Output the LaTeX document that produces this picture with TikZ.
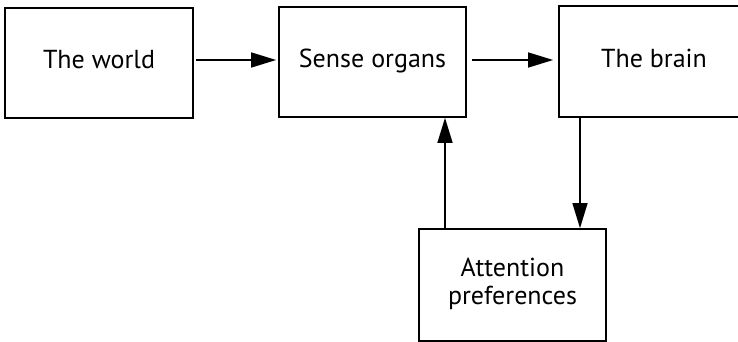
\documentclass[tikz,border=0pt]{standalone}
\usepackage{fontspec}
\setmainfont{PT Sans}
\usetikzlibrary{arrows.meta}
\begin{document}
\begin{tikzpicture}[x=1pt,y=-1pt,
  box/.style={draw, line width=1.7pt, inner sep=0pt, align=center,
    font=\fontsize{26}{28.5}\selectfont},
  link/.style={line width=1.4pt, -{Triangle[length=25pt,width=15pt]}}]
\useasboundingbox (0,0) rectangle (738,342);
\clip (0,0) rectangle (738,342);
% boxes
\node[box, minimum width=188pt, minimum height=110pt] (world) at (99,63) {\strut The world};
\node[box, minimum width=187pt, minimum height=110pt] (sense) at (372.5,62) {\strut Sense organs};
\node[box, minimum width=190pt, minimum height=111pt] (brain) at (654,61.5) {\strut The brain};
\node[box, minimum width=187pt, minimum height=112pt] (attn) at (512.5,285) {\strut Attention\\\strut preferences};
% horizontal connectors run at text height, a little above the box centres
\coordinate (row) at (0,60);
\draw[link] ([xshift=2pt]world.east |- row) -- ([xshift=-2pt]sense.west |- row);
\draw[link] ([xshift=5pt]sense.east |- row) -- ([xshift=-5pt]brain.west |- row);
% vertical connectors
\coordinate (up) at (445,0);
\draw[link] (attn.north -| up) -- (sense.south -| up);
\coordinate (dn) at (580,0);
\draw[link] (brain.south -| dn) -- (attn.north -| dn);
\end{tikzpicture}
\end{document}
